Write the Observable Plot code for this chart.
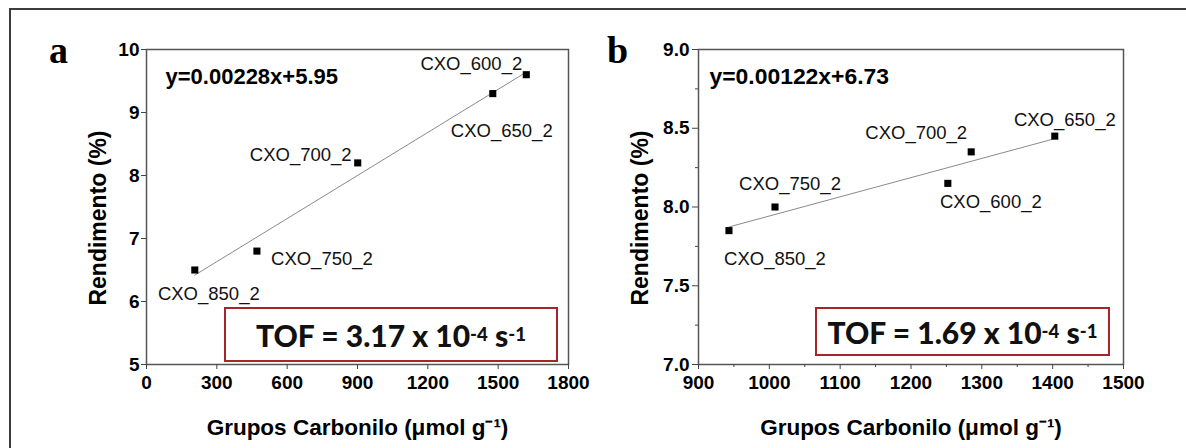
<!DOCTYPE html>
<html><head><meta charset="utf-8">
<script src="https://cdn.jsdelivr.net/npm/d3@7"></script>
<script src="https://cdn.jsdelivr.net/npm/@observablehq/plot@0.6"></script>
<style>
html,body{margin:0;padding:0;background:#fff;}
#wrap{position:relative;width:1186px;height:448px;overflow:hidden;font-family:"Liberation Sans",Arial,sans-serif;}
.panel{position:absolute;top:0;}
.outer{position:absolute;left:9px;top:8px;right:-10px;bottom:-10px;border-left:2px solid #3c3c3c;border-top:2px solid #3c3c3c;pointer-events:none;}
.tof{position:absolute;border:2.5px solid #a3262a;box-sizing:border-box;display:flex;align-items:center;justify-content:center;font-family:Lato,"Open Sans",sans-serif;font-weight:900;font-size:30px;color:#111;white-space:nowrap;}
.tof sup{font-size:0.62em;line-height:0;position:relative;top:-0.05em}
</style></head><body><div id="wrap"></div>
<script>
// ---- data (panel a) ----
const samplesA = ["CXO_850_2", "CXO_750_2", "CXO_700_2", "CXO_650_2", "CXO_600_2"];
const carbonylA = [206, 471, 901, 1477, 1620];
const yieldA = [6.5, 6.8, 8.2, 9.3, 9.6];
const xTicksA = [0, 300, 600, 900, 1200, 1500, 1800];
const yTicksA = [5, 6, 7, 8, 9, 10];
const equationA = "y=0.00228x+5.95";
const tofA = ["3.17", "-4", "-1"];

// ---- data (panel b) ----
const samplesB = ["CXO_850_2", "CXO_750_2", "CXO_600_2", "CXO_700_2", "CXO_650_2"];
const carbonylB = [943, 1008, 1252, 1285, 1403];
const yieldB = [7.85, 8.0, 8.15, 8.35, 8.45];
const xTicksB = [900, 1000, 1100, 1200, 1300, 1400, 1500];
const xMinorB = [950, 1050, 1150, 1250, 1350, 1450];
const yTicksB = [7.0, 7.5, 8.0, 8.5, 9.0];
const yMinorB = [7.25, 7.75, 8.25, 8.75];
const equationB = "y=0.00122x+6.73";
const tofB = ["1.69", "-4", "-1"];

const xTitle = "Grupos Carbonilo (μmol g⁻¹)";
const yTitle = "Rendimento (%)";

// label placement (style: px offsets of each label from its point)
const offsA = {
  "CXO_600_2": [-55, -11], "CXO_650_2": [9, 37], "CXO_700_2": [-57, -8],
  "CXO_750_2": [65, 8], "CXO_850_2": [14, 24]
};
const offsB = {
  "CXO_650_2": [10, -16], "CXO_700_2": [-55, -19], "CXO_750_2": [15, -23],
  "CXO_600_2": [43, 19], "CXO_850_2": [46, 28]
};

const FONT = "Liberation Sans, Arial, sans-serif";

function panel(o) {
  const data = o.samples.map((s, i) => ({sample: s, x: o.xs[i], y: o.ys[i]}));
  const marks = [
    Plot.frame({stroke: "#555", strokeWidth: 1.5}),
    Plot.axisX({ticks: o.xTicks, tickSize: 5, tickPadding: 6, fontSize: 19, fontWeight: "bold", label: null, stroke: "#444", tickFormat: o.xFmt}),
    Plot.axisY({ticks: o.yTicks, tickSize: o.ySize, tickPadding: o.yPad, fontSize: 19, fontWeight: "bold", label: null, stroke: "#444", tickFormat: o.yFmt}),
  ];
  if (o.xMinor) marks.push(Plot.axisX({ticks: o.xMinor, tickSize: 3, fill: "none", label: null, stroke: "#444"}));
  if (o.yMinor) marks.push(Plot.axisY({ticks: o.yMinor, tickSize: 3, fill: "none", label: null, stroke: "#444"}));
  marks.push(
    Plot.linearRegressionY(data, {x: "x", y: "y", ci: 0, stroke: "#8a8a8a", strokeWidth: 1}),
    Plot.dot(data, {x: "x", y: "y", symbol: "square", r: 4, fill: "#000", stroke: "none"}),
    ...data.map(d => Plot.text([d], {x: "x", y: "y", text: "sample", dx: o.offs[d.sample][0], dy: o.offs[d.sample][1], fontSize: 18.5, fill: "#111"})),
    Plot.text([o.eq], {text: d => d, frameAnchor: "top-left", dx: o.eqDx, dy: 34, textAnchor: "start", lineAnchor: "bottom", fontSize: o.eqSize, fontWeight: "bold"}),
    Plot.text([o.letter], {text: d => d, frameAnchor: "top-left", dx: o.letterDx, dy: 13, textAnchor: "middle", lineAnchor: "bottom", fontSize: 38, fontWeight: "bold", fontFamily: "Liberation Serif, serif"}),
    Plot.text([xTitle], {text: d => d, frameAnchor: "bottom", dy: 63, textAnchor: "middle", lineAnchor: "middle", fontSize: 22.5, fontWeight: "bold"}),
    Plot.text([yTitle], {text: d => d, frameAnchor: "left", dx: o.yTitleDx, dy: 11, rotate: -90, textAnchor: "middle", lineAnchor: "middle", fontSize: 23, fontWeight: "bold"})
  );
  return Plot.plot({
    width: 593, height: 448,
    marginLeft: o.ml, marginRight: o.mr, marginTop: 49, marginBottom: 84,
    x: {domain: o.xDomain}, y: {domain: o.yDomain},
    style: {fontFamily: FONT, color: "#000", background: "transparent", overflow: "visible"},
    marks
  });
}

const wrap = document.getElementById("wrap");
const pa = panel({samples: samplesA, xs: carbonylA, ys: yieldA, xDomain: [0, 1800], yDomain: [5, 10],
  xTicks: xTicksA, yTicks: yTicksA, xFmt: d3.format("d"), yFmt: d3.format("d"), ySize: 5, yPad: 2,
  eq: equationA, eqDx: 19, eqSize: 22, letter: "a", letterDx: -88, yTitleDx: -48, offs: offsA, ml: 146, mr: 25});
pa.classList.add("panel"); pa.style.left = "0px";
const pb = panel({samples: samplesB, xs: carbonylB, ys: yieldB, xDomain: [900, 1500], yDomain: [7, 9],
  xTicks: xTicksB, yTicks: yTicksB, xMinor: xMinorB, yMinor: yMinorB, xFmt: d3.format("d"), yFmt: d3.format(".1f"), ySize: 6, yPad: 3,
  eq: equationB, eqDx: 11, eqSize: 22.9, letter: "b", letterDx: -81, yTitleDx: -58, offs: offsB, ml: 105, mr: 63});
pb.classList.add("panel"); pb.style.left = "593px";
wrap.appendChild(pa); wrap.appendChild(pb);

function tofBox(t, left, top, w, h) {
  const div = document.createElement("div");
  div.className = "tof";
  Object.assign(div.style, {left: left + "px", top: top + "px", width: w + "px", height: h + "px"});
  div.innerHTML = `TOF = ${t[0]} x 10<sup>${t[1]}</sup>&nbsp;s<sup>${t[2]}</sup>`;
  wrap.appendChild(div);
}
tofBox(tofA, 224, 307, 334, 55);
tofBox(tofB, 815, 307, 295, 49);

const outer = document.createElement("div");
outer.className = "outer";
wrap.appendChild(outer);
</script></body></html>
